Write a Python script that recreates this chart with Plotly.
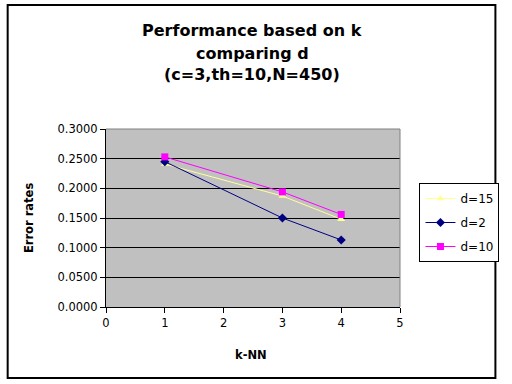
import plotly.graph_objects as go

k_values = [1, 3, 4]
d15 = [0.241, 0.187, 0.148]
d2 = [0.245, 0.150, 0.113]
d10 = [0.253, 0.194, 0.156]
y_ticks = [0.0, 0.05, 0.10, 0.15, 0.20, 0.25, 0.30]
x_ticks = [0, 1, 2, 3, 4, 5]
title_lines = ["Performance based on k", "comparing d", "(c=3,th=10,N=450)"]

W, H = 512, 384
L, R, T, B = 106, 408, 129, 307
pw, ph = R - L, B - T

def px(x):
    return (x - L) / pw

def py(y):
    return (B - y) / ph

fig = go.Figure()
fig.add_trace(go.Scatter(x=k_values, y=d15, name="d=15", mode="lines+markers", legendgroup="a",
                         line=dict(color="#FFFF99", width=1),
                         marker=dict(symbol="triangle-up", size=7, color="#FFFF99")))
fig.add_trace(go.Scatter(x=k_values, y=d2, name="d=2", mode="lines+markers", legendgroup="b",
                         line=dict(color="#000080", width=1),
                         marker=dict(symbol="diamond", size=7, color="#000080")))
fig.add_trace(go.Scatter(x=k_values, y=d10, name="d=10", mode="lines+markers", legendgroup="c",
                         line=dict(color="#FF00FF", width=1),
                         marker=dict(symbol="square", size=7, color="#FF00FF")))

font = "DejaVu Sans, Arial, sans-serif"
fig.update_layout(
    width=W, height=H,
    margin=dict(l=L, r=W - R, t=T, b=H - B),
    paper_bgcolor="white", plot_bgcolor="#C0C0C0",
    font=dict(family=font, size=11.5, color="black"),
    xaxis=dict(range=[0, 5], tickvals=x_ticks, showgrid=False, zeroline=False,
               showline=True, linecolor="black", linewidth=1,
               ticks="outside", ticklen=5, tickcolor="black"),
    yaxis=dict(range=[0, 0.3], tickvals=y_ticks, tickformat=".4f",
               showgrid=True, gridcolor="black", gridwidth=1, zeroline=False,
               showline=True, linecolor="black", linewidth=1,
               ticks="outside", ticklen=5, tickcolor="black"),
    legend=dict(x=px(428), y=py(183), xanchor="left", yanchor="top",
                bgcolor="white", bordercolor="black", borderwidth=1,
                font=dict(size=12), traceorder="grouped", tracegroupgap=5),
    showlegend=True,
)

for line, yc in zip(title_lines, [30, 53, 75]):
    fig.add_annotation(text="<b>%s</b>" % line, xref="paper", yref="paper",
                       x=px(256), y=py(yc), xanchor="center", yanchor="middle",
                       showarrow=False, font=dict(size=16, family=font, color="black"))

fig.add_annotation(text="<b>k-NN</b>", xref="paper", yref="paper", x=px(255), y=py(355),
                   xanchor="center", yanchor="middle", showarrow=False,
                   font=dict(size=11.5, family=font))
fig.add_annotation(text="<b>Error rates</b>", xref="paper", yref="paper", x=px(27), y=py(218),
                   xanchor="center", yanchor="middle", showarrow=False, textangle=-90,
                   font=dict(size=11.5, family=font))

fig.add_shape(type="line", xref="paper", yref="paper", x0=0, x1=1, y0=1, y1=1,
              line=dict(color="#808080", width=1))
fig.add_shape(type="line", xref="paper", yref="paper", x0=1, x1=1, y0=0, y1=1,
              line=dict(color="#808080", width=1))
fig.add_shape(type="rect", xref="paper", yref="paper",
              x0=px(5), x1=px(506), y0=py(378), y1=py(5),
              line=dict(color="black", width=2), fillcolor="rgba(0,0,0,0)")

fig.write_html(
    "out.html", config={"displayModeBar": False},
    post_script=("document.documentElement.style.margin='0';"
                 "document.documentElement.style.overflow='hidden';"
                 "document.body.style.margin='0';"
                 "document.body.style.overflow='hidden';"
                 "var gd=document.getElementById('{plot_id}');"
                 "gd.style.position='fixed';gd.style.left='0px';gd.style.top='0px';"),
)
